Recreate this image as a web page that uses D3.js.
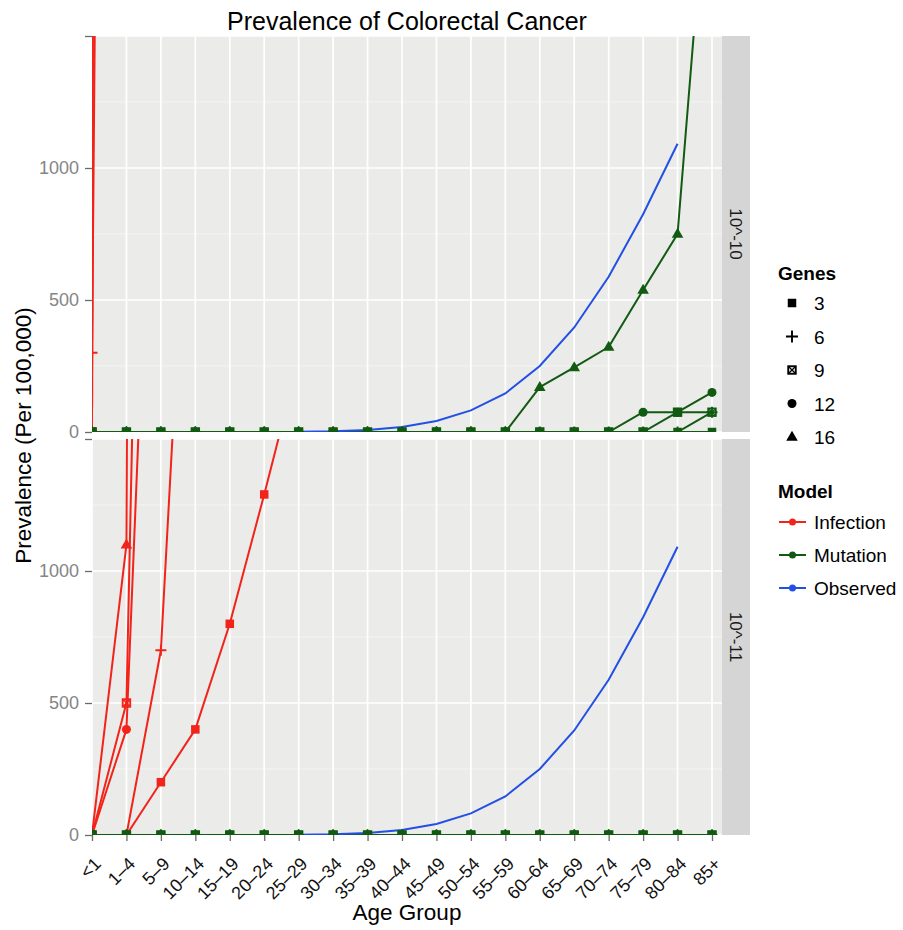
<!DOCTYPE html>
<html>
<head>
<meta charset="utf-8">
<script src="https://cdn.jsdelivr.net/npm/d3@7"></script>
<style>
  body { margin: 0; background: #ffffff; }
  text { font-family: "Liberation Sans", Arial, Helvetica, sans-serif; }
</style>
</head>
<body>
<script>
// ---- data -------------------------------------------------------------
const ageGroups = ["<1", "1–4", "5–9", "10–14", "15–19", "20–24", "25–29", "30–34",
  "35–39", "40–44", "45–49", "50–54", "55–59", "60–64", "65–69", "70–74",
  "75–79", "80–84", "85+"];
const geneCounts = ["3", "6", "9", "12", "16"];
const models = ["Infection", "Mutation", "Observed"];
const rates = ["10^-10", "10^-11"];
const yTicks = [0, 500, 1000, 1500];
const yTickLabels = ["0", "500", "1000", ""];

// Infection model, mutation rate 10^-10 (values from "<1" onward; rises far off scale)
const inf10_g3 = [0, 80000];
const inf10_g6 = [300, 15500];
const inf10_g9 = [0, 100000];
const inf10_g12 = [0, 90000];
const inf10_g16 = [0, 120000];

// Infection model, mutation rate 10^-11
const inf11_g3 = [0, 0, 200, 400, 800, 1290, 1800];
const inf11_g6 = [0, 0, 700, 3100];
const inf11_g9 = [0, 500, 6600];
const inf11_g12 = [0, 400, 3600];
const inf11_g16 = [0, 1100, 28000];

// Mutation model, mutation rate 10^-10
const mut10_g3 = [0, 0, 0, 0, 0, 0, 0, 0, 0, 0, 0, 0, 0, 0, 0, 0, 0, 0, 0];
const mut10_g6 = [0, 0, 0, 0, 0, 0, 0, 0, 0, 0, 0, 0, 0, 0, 0, 0, 0, 0, 75];
const mut10_g9 = [0, 0, 0, 0, 0, 0, 0, 0, 0, 0, 0, 0, 0, 0, 0, 0, 0, 75, 75];
const mut10_g12 = [0, 0, 0, 0, 0, 0, 0, 0, 0, 0, 0, 0, 0, 0, 0, 0, 75, 75, 150];
const mut10_g16 = [0, 0, 0, 0, 0, 0, 0, 0, 0, 0, 0, 0, 0, 170, 245, 322, 538, 750, 2360];

// Mutation model, mutation rate 10^-11
const mut11_g3 = [0, 0, 0, 0, 0, 0, 0, 0, 0, 0, 0, 0, 0, 0, 0, 0, 0, 0, 0];
const mut11_g6 = [0, 0, 0, 0, 0, 0, 0, 0, 0, 0, 0, 0, 0, 0, 0, 0, 0, 0, 0];
const mut11_g9 = [0, 0, 0, 0, 0, 0, 0, 0, 0, 0, 0, 0, 0, 0, 0, 0, 0, 0, 0];
const mut11_g12 = [0, 0, 0, 0, 0, 0, 0, 0, 0, 0, 0, 0, 0, 0, 0, 0, 0, 0, 0];
const mut11_g16 = [0, 0, 0, 0, 0, 0, 0, 0, 0, 0, 0, 0, 0, 0, 0, 0, 0, 0, 0];

// Observed prevalence (same in both panels)
const observed = [null, null, null, null, null, null, 1, 3, 8, 19, 42, 82, 146,
  250, 396, 588, 825, 1092, null];

// ---- series table built from the arrays above ----------------------------
const seriesTable = [
  { rate: "10^-10", model: "Infection", genes: ["3","6","9","12","16"], values: [inf10_g3, inf10_g6, inf10_g9, inf10_g12, inf10_g16] },
  { rate: "10^-10", model: "Mutation", genes: ["3","6","9","12","16"], values: [mut10_g3, mut10_g6, mut10_g9, mut10_g12, mut10_g16] },
  { rate: "10^-11", model: "Infection", genes: ["3","6","9","12","16"], values: [inf11_g3, inf11_g6, inf11_g9, inf11_g12, inf11_g16] },
  { rate: "10^-11", model: "Mutation", genes: ["3","6","9","12","16"], values: [mut11_g3, mut11_g6, mut11_g9, mut11_g12, mut11_g16] }
];

// ---- layout -----------------------------------------------------------------
const W = 903, H = 930;
const colors = d3.scaleOrdinal().domain(models).range(["#f2231a", "#115a11", "#2350e4"]);
const panelLeft = 92, panelRight = 722;
const stripW = 28;
const panelBands = { "10^-10": [36, 432], "10^-11": [439, 835] };

const x = d3.scalePoint().domain(ageGroups).range([92, 712]);

const svg = d3.select("body").append("svg")
  .attr("width", W).attr("height", H)
  .attr("viewBox", `0 0 ${W} ${H}`);

// marker shapes keyed by gene count
function drawShape(g, genes, cx, cy, color, k = 1) {
  const s = 8.5 * k;
  if (genes === "3") {
    g.append("rect").attr("x", cx - s / 2).attr("y", cy - s / 2)
      .attr("width", s).attr("height", s).attr("fill", color);
  } else if (genes === "6") {
    const a = 5.5 * k;
    g.append("path").attr("d", `M${cx - a},${cy}H${cx + a}M${cx},${cy - a}V${cy + a}`)
      .attr("stroke", color).attr("stroke-width", 1.9).attr("fill", "none");
  } else if (genes === "9") {
    const h = s / 2 - 0.5;
    g.append("rect").attr("x", cx - h).attr("y", cy - h).attr("width", 2 * h).attr("height", 2 * h)
      .attr("fill", "none").attr("stroke", color).attr("stroke-width", 1.9);
    g.append("path").attr("d", `M${cx - h},${cy - h}L${cx + h},${cy + h}M${cx - h},${cy + h}L${cx + h},${cy - h}`)
      .attr("stroke", color).attr("stroke-width", 1.4);
  } else if (genes === "12") {
    g.append("circle").attr("cx", cx).attr("cy", cy).attr("r", 4.5 * k).attr("fill", color);
  } else if (genes === "16") {
    g.append("path").attr("d", d3.symbol().type(d3.symbolTriangle).size(58 * k * k)())
      .attr("transform", `translate(${cx},${cy + 0.5})`).attr("fill", color);
  }
}

// title
svg.append("text").attr("x", (panelLeft + panelRight) / 2).attr("y", 30)
  .attr("text-anchor", "middle").attr("font-size", 25).attr("fill", "#000")
  .text("Prevalence of Colorectal Cancer");

rates.forEach((rate, pi) => {
  const [top, bottom] = panelBands[rate];
  const y = d3.scaleLinear().domain([0, 1500]).range([bottom, top]);
  const g = svg.append("g");

  // panel background and grid
  g.append("rect").attr("x", panelLeft).attr("y", top)
    .attr("width", panelRight - panelLeft).attr("height", bottom - top).attr("fill", "#ebebe9");
  [250, 750, 1250].forEach(v => {
    g.append("line").attr("x1", panelLeft).attr("x2", panelRight)
      .attr("y1", y(v)).attr("y2", y(v)).attr("stroke", "#f6f6f5").attr("stroke-width", 0.8);
  });
  yTicks.forEach(v => {
    g.append("line").attr("x1", panelLeft).attr("x2", panelRight)
      .attr("y1", y(v)).attr("y2", y(v)).attr("stroke", "#ffffff").attr("stroke-width", 1.7);
  });
  ageGroups.forEach(a => {
    g.append("line").attr("x1", x(a)).attr("x2", x(a))
      .attr("y1", top).attr("y2", bottom).attr("stroke", "#ffffff").attr("stroke-width", 1.7);
  });

  // strip
  g.append("rect").attr("x", panelRight).attr("y", top).attr("width", stripW)
    .attr("height", bottom - top).attr("fill", "#d5d5d5");
  g.append("text").attr("transform", `translate(${panelRight + stripW / 2},${(top + bottom) / 2}) rotate(90)`)
    .attr("text-anchor", "middle").attr("dy", "0.35em").attr("font-size", 17).attr("fill", "#1a1a1a")
    .text(rate);

  // y axis
  const yAxis = d3.axisLeft(y).tickValues(yTicks)
    .tickFormat((d, i) => yTickLabels[i]).tickSize(7).tickPadding(6);
  const ya = g.append("g").attr("transform", `translate(${panelLeft},0)`).call(yAxis);
  ya.select(".domain").remove();
  ya.selectAll(".tick line").attr("stroke", "#6b6b6b").attr("stroke-width", 1.3);
  ya.selectAll(".tick text").attr("font-size", 18).attr("fill", "#858585")
    .attr("font-family", "'Liberation Sans', Arial, sans-serif");

  // clipped data area
  const clipId = `clip-${pi}`;
  svg.append("clipPath").attr("id", clipId).append("rect")
    .attr("x", panelLeft).attr("y", top).attr("width", panelRight - panelLeft).attr("height", bottom - top);
  const data = g.append("g").attr("clip-path", `url(#${clipId})`);

  const line = d3.line()
    .defined(d => d.v != null)
    .x(d => x(ageGroups[d.i]))
    .y(d => y(d.v));

  const rows = seriesTable.filter(s => s.rate === rate);
  // lines
  rows.forEach(s => {
    s.values.forEach(vals => {
      data.append("path")
        .attr("d", line(vals.map((v, i) => ({ i, v }))))
        .attr("fill", "none").attr("stroke", colors(s.model)).attr("stroke-width", 2)
        .attr("stroke-linejoin", "round");
    });
  });
  data.append("path")
    .attr("d", line(observed.map((v, i) => ({ i, v }))))
    .attr("fill", "none").attr("stroke", colors("Observed")).attr("stroke-width", 2);
  // points
  rows.forEach(s => {
    s.values.forEach((vals, gi) => {
      vals.forEach((v, i) => {
        if (v == null) return;
        const py = y(v);
        if (py < top - 10 || py > bottom + 10) return;
        drawShape(data, s.genes[gi], x(ageGroups[i]), py, colors(s.model));
      });
    });
  });

  // x axis on the bottom panel only
  if (pi === rates.length - 1) {
    const xAxis = d3.axisBottom(x).tickSize(6).tickFormat("");
    const xa = g.append("g").attr("transform", `translate(0,${bottom})`).call(xAxis);
    xa.select(".domain").remove();
    xa.selectAll(".tick line").attr("stroke", "#6b6b6b").attr("stroke-width", 1.3);
    ageGroups.forEach(a => {
      g.append("text")
        .attr("transform", `translate(${x(a) + 10},${bottom + 30}) rotate(-45)`)
        .attr("text-anchor", "end").attr("font-size", 18).attr("fill", "#111")
        .text(a);
    });
  }
});

// axis titles
svg.append("text").attr("transform", `translate(31,${(36 + 835) / 2}) rotate(-90)`)
  .attr("text-anchor", "middle").attr("font-size", 22.5).attr("fill", "#000")
  .text("Prevalence (Per 100,000)");
svg.append("text").attr("x", (panelLeft + panelRight) / 2).attr("y", 920)
  .attr("text-anchor", "middle").attr("font-size", 22.5).attr("fill", "#000")
  .text("Age Group");

// legends
const lg = svg.append("g");
lg.append("text").attr("x", 778).attr("y", 280).attr("font-size", 19)
  .attr("font-weight", "bold").attr("fill", "#000").text("Genes");
geneCounts.forEach((gc, i) => {
  const cy = 303 + i * 33.5;
  drawShape(lg, gc, 792, cy, "#000", gc === "6" ? 1.1 : 1);
  lg.append("text").attr("x", 814).attr("y", cy + 7).attr("font-size", 19).attr("fill", "#000").text(gc);
});
lg.append("text").attr("x", 778).attr("y", 498).attr("font-size", 19)
  .attr("font-weight", "bold").attr("fill", "#000").text("Model");
models.forEach((m, i) => {
  const cy = 522 + i * 33;
  lg.append("line").attr("x1", 779).attr("x2", 806).attr("y1", cy).attr("y2", cy)
    .attr("stroke", colors(m)).attr("stroke-width", 2);
  lg.append("circle").attr("cx", 792.5).attr("cy", cy).attr("r", 3.5).attr("fill", colors(m));
  lg.append("text").attr("x", 814).attr("y", cy + 7).attr("font-size", 19).attr("fill", "#000").text(m);
});
</script>
</body>
</html>
